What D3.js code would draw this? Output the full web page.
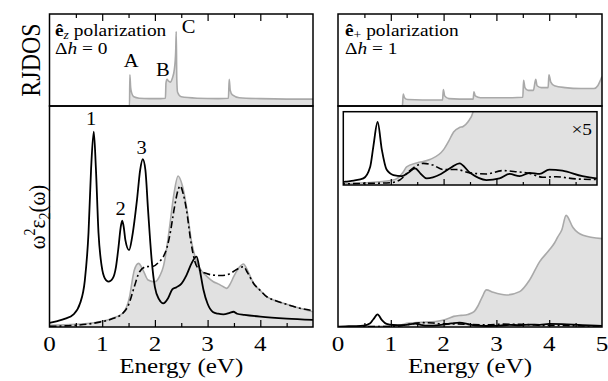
<!DOCTYPE html>
<html>
<head>
<meta charset="utf-8">
<script src="https://cdn.jsdelivr.net/npm/d3@7/dist/d3.min.js"></script>
<style>
  body { margin: 0; background: #fff; }
</style>
</head>
<body>
<div id="chart"></div>
<script>
// energy axis
const majorTicks = [1, 2, 3, 4]
const minorTicks = [0.5, 1.5, 2.5, 3.5, 4.5]
const leftTickLabels = [0, 1, 2, 3, 4]
const rightTickLabels = [0, 1, 2, 3, 4, 5]

// RJDOS (top panels), [energy, value]
const rjdosZ = [[0,0],[1.5,0],[1.518,0],[1.525,0.34],[1.54,0.2],[1.56,0.14],[1.6,0.1],[1.7,0.085],[1.9,0.08],[2.1,0.08],[2.2,0.085],
  [2.21,0.25],[2.23,0.29],[2.26,0.27],[2.29,0.26],[2.33,0.3],[2.37,0.4],[2.395,0.6],[2.405,0.81],[2.415,0.3],[2.43,0.15],
  [2.5,0.1],[2.8,0.085],[3.2,0.08],[3.395,0.085],[3.41,0.29],[3.43,0.17],[3.47,0.12],[3.6,0.09],[4.0,0.08],[4.5,0.075],[5.0,0.075]]
const rjdosPlus = [[0,0],[1.22,0],[1.235,0.13],[1.26,0.09],[1.32,0.07],[1.6,0.065],[1.98,0.065],[1.995,0.18],[2.02,0.11],[2.1,0.08],
  [2.3,0.075],[2.56,0.075],[2.575,0.155],[2.6,0.11],[2.7,0.09],[3.0,0.09],[3.3,0.09],[3.5,0.095],[3.515,0.28],[3.54,0.2],[3.6,0.17],
  [3.7,0.17],[3.745,0.29],[3.77,0.22],[3.85,0.2],[3.98,0.2],[3.995,0.34],[4.03,0.26],[4.1,0.22],[4.3,0.2],[4.6,0.19],[4.85,0.19],
  [4.92,0.22],[4.97,0.28],[5.0,0.32]]

// w^2 eps2, e_z polarization
const ezSolid = [[0,0.19],[0.15,0.27],[0.3,0.38],[0.45,0.56],[0.58,1.07],[0.67,2.1],[0.74,4.25],[0.79,7.2],[0.84,8.84],[0.88,7.2],
  [0.93,4.25],[0.99,2.75],[1.05,2.2],[1.12,2.05],[1.2,2.2],[1.26,2.7],[1.31,3.63],[1.35,4.5],[1.38,4.81],[1.41,4.5],[1.44,3.93],
  [1.51,3.48],[1.57,4.1],[1.66,5.75],[1.72,7.1],[1.77,7.59],[1.82,7.1],[1.87,5.3],[1.94,3.0],[2.0,1.8],[2.08,1.25],[2.16,1.07],
  [2.25,1.3],[2.33,1.7],[2.41,1.8],[2.5,1.95],[2.6,2.35],[2.7,2.9],[2.79,3.18],[2.85,2.6],[2.92,1.7],[3.0,1.05],[3.1,0.68],
  [3.2,0.6],[3.3,0.57],[3.42,0.64],[3.49,0.69],[3.56,0.6],[3.7,0.55],[4.0,0.47],[4.5,0.38],[5.0,0.32]]
const ezGray = [[0,0.08],[0.5,0.12],[0.95,0.24],[1.2,0.4],[1.39,0.62],[1.47,0.95],[1.52,1.37],[1.57,2.1],[1.61,2.58],[1.69,2.88],
  [1.77,2.6],[1.87,2.13],[2.0,2.05],[2.1,2.35],[2.16,2.73],[2.22,3.5],[2.28,4.54],[2.36,6.0],[2.44,6.83],[2.52,6.4],[2.6,5.44],
  [2.7,3.79],[2.78,3.05],[2.85,2.66],[2.98,2.3],[3.11,2.05],[3.2,1.95],[3.3,1.82],[3.36,1.75],[3.43,1.95],[3.5,2.3],[3.6,2.7],
  [3.68,2.85],[3.76,2.55],[3.87,1.98],[4.0,1.65],[4.12,1.37],[4.28,1.2],[4.44,1.07],[4.7,0.88],[5.0,0.69]]
const ezDashDot = [[0,0.03],[0.5,0.08],[0.95,0.22],[1.2,0.38],[1.39,0.62],[1.5,1.0],[1.6,1.75],[1.71,2.5],[1.84,2.73],[1.97,2.75],
  [2.08,2.95],[2.16,3.18],[2.23,3.6],[2.29,4.24],[2.37,5.4],[2.44,6.2],[2.48,6.38],[2.54,6.0],[2.6,5.29],[2.68,3.9],[2.76,2.95],
  [2.85,2.58],[2.98,2.42],[3.1,2.35],[3.25,2.33],[3.35,2.35],[3.45,2.45],[3.55,2.6],[3.68,2.73],[3.76,2.45],[3.87,1.98],[4.0,1.65],
  [4.12,1.37],[4.28,1.2],[4.44,1.07],[4.7,0.88],[5.0,0.74]]

// w^2 eps2, e_+ polarization
const epSolid = [[0,0.02],[0.14,0.03],[0.3,0.04],[0.48,0.06],[0.61,0.166],[0.67,0.35],[0.75,0.57],[0.83,0.32],[0.92,0.14],[1.05,0.09],
  [1.21,0.08],[1.33,0.11],[1.46,0.15],[1.57,0.1],[1.68,0.06],[1.95,0.1],[2.15,0.16],[2.3,0.196],[2.5,0.11],[2.81,0.045],[3.06,0.06],
  [3.25,0.1],[3.44,0.08],[3.63,0.11],[3.82,0.1],[4.0,0.14],[4.25,0.13],[4.63,0.08],[4.89,0.06],[5.0,0.055]]
const epGray = [[0,0.01],[0.5,0.02],[1.0,0.04],[1.15,0.07],[1.24,0.12],[1.3,0.165],[1.49,0.2],[1.74,0.23],[2.0,0.32],[2.1,0.4],
  [2.19,0.48],[2.3,0.52],[2.37,0.53],[2.46,0.57],[2.57,0.68],[2.65,0.95],[2.73,1.35],[2.81,1.68],[2.94,1.57],[3.19,1.45],[3.44,1.6],
  [3.63,2.13],[3.82,2.96],[4.0,3.48],[4.1,3.8],[4.16,4.07],[4.24,4.4],[4.32,5.05],[4.45,4.5],[4.64,4.15],[5.0,4.0]]
const epDashDot = [[0,0.005],[0.14,0.01],[0.99,0.02],[1.17,0.045],[1.36,0.13],[1.62,0.196],[1.8,0.18],[1.99,0.14],[2.24,0.14],
  [2.5,0.11],[2.81,0.1],[3.12,0.13],[3.38,0.12],[3.63,0.105],[3.88,0.07],[4.13,0.075],[4.5,0.055],[4.89,0.05],[5.0,0.05]]

// annotations, [text, energy, value]
const peakLabels = [['1', 0.79, 9.14], ['2', 1.35, 5.07], ['3', 1.75, 7.83]]
const jdosLabels = [['A', 1.55, 0.42], ['B', 2.15, 0.33], ['C', 2.64, 0.79]]
const insetFactor = 5

const TOP = 14, MID = 106, BOT = 327
const GRAY_FILL = '#e1e1e1', GRAY_LINE = '#a9a9a9'
const SERIF = "'Liberation Serif', 'Times New Roman', Times, 'DejaVu Serif', serif"
const SX = 1.14 // the original figure is stretched a little horizontally

const svg = d3.select('#chart').append('svg')
  .attr('width', 608).attr('height', 381)
  .attr('font-family', SERIF)

const yTop = d3.scaleLinear().domain([0, 1]).range([MID, TOP])
const yMain = d3.scaleLinear().domain([0, 10]).range([BOT, MID])

// text placed at (x, y), stretched like the original
function label(parent, x, y, size, anchor, rot) {
  return parent.append('g')
    .attr('transform', `translate(${x},${y}) scale(${SX},1)` + (rot ? ` rotate(${rot})` : ''))
    .append('text')
    .attr('font-family', SERIF).attr('fill', '#000')
    .attr('font-size', size).attr('text-anchor', anchor || 'start')
}

function drawCurves(g, x, y, gray, dash, solid) {
  const area = d3.area().x(d => x(d[0])).y0(y(0)).y1(d => y(d[1])).curve(d3.curveMonotoneX)
  const line = d3.line().x(d => x(d[0])).y(d => y(d[1])).curve(d3.curveMonotoneX)
  g.append('path').datum(gray).attr('d', area).attr('fill', GRAY_FILL)
  g.append('path').datum(gray).attr('d', line).attr('fill', 'none').attr('stroke', GRAY_LINE).attr('stroke-width', 1.6)
  if (dash) g.append('path').datum(dash).attr('d', line).attr('fill', 'none').attr('stroke', '#000')
    .attr('stroke-width', 1.6).attr('stroke-dasharray', '7,3,2,3')
  if (solid) g.append('path').datum(solid).attr('d', line).attr('fill', 'none').attr('stroke', '#000').attr('stroke-width', 1.8)
}

function tickRow(g, axisFn, x, yPos, values, size) {
  g.append('g')
    .attr('transform', `translate(0,${yPos})`)
    .call(axisFn(x).tickValues(values).tickSize(size).tickFormat(''))
    .call(a => a.select('.domain').remove())
    .call(a => a.selectAll('line').attr('stroke', '#000').attr('stroke-width', 1.2))
}

function panel(id, left, right, rjdos, gray, dash, solid, tickLabels) {
  const x = d3.scaleLinear().domain([0, 5]).range([left, right])
  const g = svg.append('g')

  svg.append('clipPath').attr('id', 'clip-' + id)
    .append('rect').attr('x', left).attr('y', TOP).attr('width', right - left).attr('height', BOT - TOP)
  const body = g.append('g').attr('clip-path', `url(#clip-${id})`)

  // RJDOS
  drawCurves(body, x, yTop, rjdos, null, null)
  // main
  drawCurves(body, x, yMain, gray, dash, solid)

  // ticks
  tickRow(g, d3.axisTop, x, TOP, majorTicks, -7)
  tickRow(g, d3.axisTop, x, TOP, minorTicks, -4)
  tickRow(g, d3.axisBottom, x, BOT, majorTicks, -7)
  tickRow(g, d3.axisBottom, x, BOT, minorTicks, -4)

  // frames
  g.append('rect').attr('x', left).attr('y', TOP).attr('width', right - left).attr('height', MID - TOP)
    .attr('fill', 'none').attr('stroke', '#000').attr('stroke-width', 1.5)
  g.append('rect').attr('x', left).attr('y', MID).attr('width', right - left).attr('height', BOT - MID)
    .attr('fill', 'none').attr('stroke', '#000').attr('stroke-width', 1.5)

  // tick labels
  tickLabels.forEach(d => label(g, x(d), 351, 22, 'middle').text(d))
  label(g, (left + right) / 2, 373, 22, 'middle').text('Energy (eV)')
  return { x, g }
}

// left panel: e_z
const L = panel('z', 49.5, 313, rjdosZ, ezGray, ezDashDot, ezSolid, leftTickLabels)
// right panel: e_+
const R = panel('p', 338, 602, rjdosPlus, epGray, epDashDot, epSolid, rightTickLabels)

// polarization labels
function polLabel(g, xPos, sub, dh) {
  const t1 = label(g, xPos, 36, 17)
  t1.append('tspan').attr('font-weight', 'bold').text('ê')
  t1.append('tspan').attr('dy', 3).attr('font-size', 12).attr('font-style', sub === 'z' ? 'italic' : 'normal').text(sub)
  t1.append('tspan').attr('dy', -3).text(' polarization')
  const t2 = label(g, xPos, 54, 17)
  t2.append('tspan').text('Δ')
  t2.append('tspan').attr('font-style', 'italic').text('h')
  t2.append('tspan').text(' = ' + dh)
}
polLabel(L.g, 55, 'z', 0)
polLabel(R.g, 345, '+', 1)

jdosLabels.forEach(d => label(L.g, L.x(d[1]), yTop(d[2]), 18, 'middle').text(d[0]))
peakLabels.forEach(d => label(L.g, L.x(d[1]), yMain(d[2]), 18, 'middle').text(d[0]))

// inset (x5) in right panel
const IN = { left: 343.3, right: 597, top: 111.7, bottom: 185 }
const yInset = d3.scaleLinear().domain([0, 10 / insetFactor]).range([IN.bottom, IN.bottom - (BOT - MID)])
svg.append('clipPath').attr('id', 'clip-inset').append('rect')
  .attr('x', IN.left).attr('y', IN.top).attr('width', IN.right - IN.left).attr('height', IN.bottom - IN.top)
const inset = svg.append('g')
inset.append('rect').attr('x', IN.left).attr('y', IN.top).attr('width', IN.right - IN.left).attr('height', IN.bottom - IN.top)
  .attr('fill', '#fff')
const insetBody = inset.append('g').attr('clip-path', 'url(#clip-inset)')
drawCurves(insetBody, R.x, yInset, epGray, epDashDot, epSolid)
tickRow(inset, d3.axisBottom, R.x, IN.bottom, majorTicks, -6)
tickRow(inset, d3.axisBottom, R.x, IN.bottom, minorTicks, -3)
inset.append('rect').attr('x', IN.left).attr('y', IN.top).attr('width', IN.right - IN.left).attr('height', IN.bottom - IN.top)
  .attr('fill', 'none').attr('stroke', '#000').attr('stroke-width', 1.5)
label(inset, 592, 135, 17, 'end').text('×5')

// y axis titles
label(svg, 40, 60, 24, 'middle', -90).text('RJDOS')
const yl = label(svg, 45, 217, 21, 'middle', -90)
yl.append('tspan').text('ω')
yl.append('tspan').attr('dy', -9).attr('font-size', 14).text('2')
yl.append('tspan').attr('dy', 9).text('ε')
yl.append('tspan').attr('dy', 4).attr('font-size', 14).text('2')
yl.append('tspan').attr('dy', -4).text('(ω)')
</script>
</body>
</html>
